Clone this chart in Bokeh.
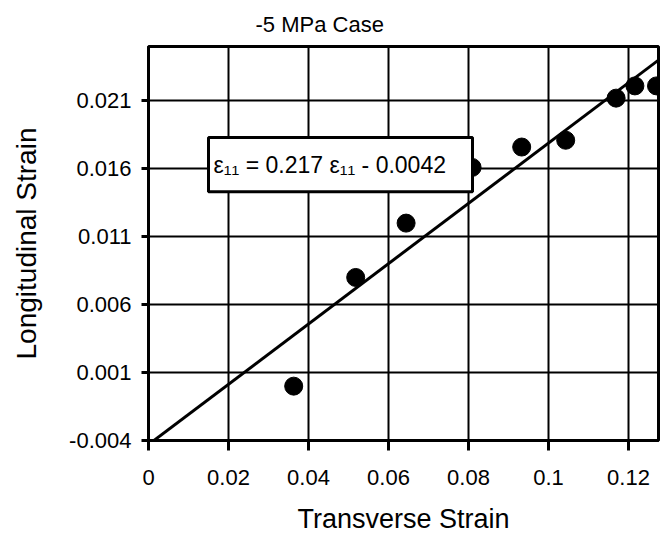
from bokeh.plotting import figure
from bokeh.models import Range1d, FixedTicker, BoxAnnotation, Label
from bokeh.embed import file_html
from bokeh.resources import INLINE

# ---- data ----
title_text = "-5 MPa Case"
x_label = "Transverse Strain"
y_label = "Longitudinal Strain"

x_ticks = [0, 0.02, 0.04, 0.06, 0.08, 0.1, 0.12]
x_tick_labels = ["0", "0.02", "0.04", "0.06", "0.08", "0.1", "0.12"]
y_ticks = [-0.004, 0.001, 0.006, 0.011, 0.016, 0.021]
y_tick_labels = ["-0.004", "0.001", "0.006", "0.011", "0.016", "0.021"]

transverse_strain = [0.0363, 0.0518, 0.0644, 0.0809, 0.0933, 0.1043, 0.1169, 0.1216, 0.1270]
longitudinal_strain = [0.0000, 0.0080, 0.0120, 0.0161, 0.0176, 0.0181, 0.0212, 0.0221, 0.0221]

fit_x = [0.0, 0.1275]
fit_y = [-0.0043, 0.0240]

eq_text = "ε\u2081\u2081 = 0.217 ε\u2081\u2081 - 0.0042"
eq_box = dict(left=0.015, right=0.081, bottom=0.0143, top=0.0183)

FONT = "Liberation Sans"

p = figure(width=661, height=538,
           x_range=Range1d(0, 0.1275), y_range=Range1d(-0.004, 0.025),
           output_backend="svg", toolbar_location=None,
           min_border_left=148, min_border_right=3,
           min_border_top=45, min_border_bottom=98)

p.title.text = title_text
p.title.text_font = FONT
p.title.text_font_size = "22px"
p.title.text_font_style = "normal"
p.title.text_color = "black"
p.title.align = "left"
p.title.offset = 107
p.title.standoff = 19

# grid
p.xgrid.ticker = FixedTicker(ticks=x_ticks)
p.ygrid.ticker = FixedTicker(ticks=y_ticks)
for g in (p.xgrid, p.ygrid):
    g.grid_line_color = "black"
    g.grid_line_width = 2
    g.grid_line_alpha = 1.0

# axes
p.xaxis.ticker = FixedTicker(ticks=x_ticks)
p.yaxis.ticker = FixedTicker(ticks=y_ticks)
p.xaxis.major_label_overrides = {t: l for t, l in zip(x_ticks, x_tick_labels)}
p.yaxis.major_label_overrides = {t: l for t, l in zip(y_ticks, y_tick_labels)}
p.xaxis.axis_label = x_label
p.yaxis.axis_label = y_label
for ax in (p.xaxis, p.yaxis):
    ax.axis_line_width = 3
    ax.axis_line_color = "black"
    ax.major_tick_line_width = 3
    ax.major_tick_line_color = "black"
    ax.major_tick_in = 0
    ax.minor_tick_line_color = None
    ax.major_label_text_font = FONT
    ax.major_label_text_color = "black"
    ax.axis_label_text_font = FONT
    ax.axis_label_text_font_style = "normal"
    ax.axis_label_text_color = "black"
p.xaxis.axis_label_text_font_size = "27px"
p.yaxis.axis_label_text_font_size = "28px"
p.xaxis.major_tick_out = 10
p.yaxis.major_tick_out = 7
p.xaxis.major_label_text_font_size = "22px"
p.yaxis.major_label_text_font_size = "22px"
p.xaxis.major_label_standoff = 19
p.yaxis.major_label_standoff = 10
p.xaxis.axis_label_standoff = 16
p.yaxis.axis_label_standoff = 24

p.outline_line_color = "black"
p.outline_line_width = 3
p.outline_line_alpha = 1.0

# fit line and data
p.line(fit_x, fit_y, line_color="black", line_width=3)
p.scatter(transverse_strain, longitudinal_strain, size=18, color="black")

# equation box
box = BoxAnnotation(fill_color="white", fill_alpha=1.0,
                    line_color="black", line_width=3, line_alpha=1.0, **eq_box)
p.add_layout(box)
p.add_layout(Label(x=eq_box["left"], y=(eq_box["top"] + eq_box["bottom"]) / 2,
                   x_offset=5, text=eq_text, text_font=FONT,
                   text_font_size="23px", text_baseline="middle",
                   text_color="black"))

open("out.html", "w").write(file_html(p, INLINE))
